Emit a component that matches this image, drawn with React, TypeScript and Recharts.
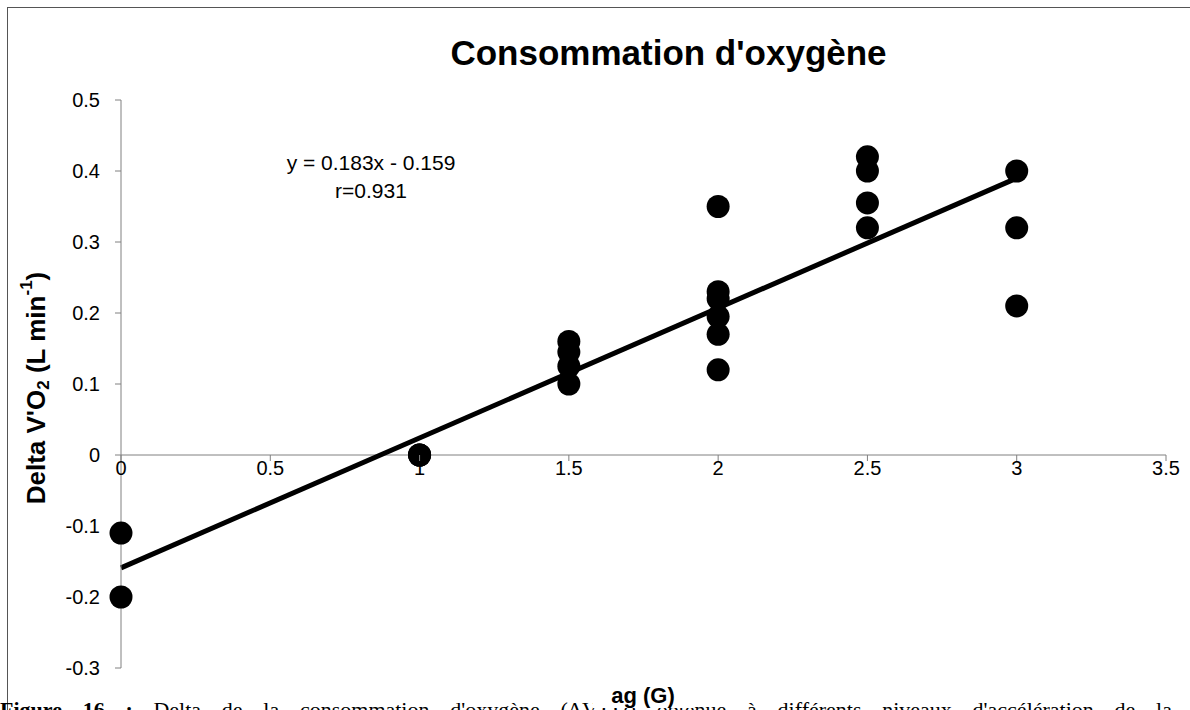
import React from "react";
import {
  ScatterChart,
  Scatter,
  XAxis,
  YAxis,
  ReferenceLine,
} from "recharts";

// measured points, one array per acceleration level
const ACCEL_LEVELS = [0, 1, 1.5, 2, 2.5, 3];
const DELTA_VO2 = [
  [-0.11, -0.2],
  [0, 0, 0],
  [0.16, 0.145, 0.125, 0.1],
  [0.35, 0.23, 0.22, 0.195, 0.17, 0.12],
  [0.42, 0.4, 0.355, 0.32],
  [0.4, 0.32, 0.21],
];

// linear fit y = 0.183x - 0.159
const SLOPE = 0.183;
const INTERCEPT = -0.159;
const FIT_X = [0, 3];

const X_TICKS = [0, 0.5, 1, 1.5, 2, 2.5, 3, 3.5];
const Y_TICKS = [-0.3, -0.2, -0.1, 0, 0.1, 0.2, 0.3, 0.4, 0.5];

const W = 1190;
const H = 710;
const PLOT_LEFT = 121;
const PLOT_TOP = 100;
const PLOT_BOTTOM = 668;
const Y_MIN = -0.3;
const Y_MAX = 0.5;
const ZERO_SHIFT = ((PLOT_BOTTOM - PLOT_TOP) * (0 - Y_MIN)) / (Y_MAX - Y_MIN);

const FONT = "'Liberation Sans', Arial, sans-serif";
const AXIS_GRAY = "#808080";

const points = ACCEL_LEVELS.flatMap((x, i) =>
  DELTA_VO2[i].map((y) => ({ x, y }))
);

function XTick(props: any) {
  const { x, y, payload } = props;
  const zy = y - ZERO_SHIFT;
  return (
    <g>
      <line x1={x} x2={x} y1={zy} y2={zy + 6} stroke={AXIS_GRAY} />
      <text
        x={x}
        y={zy + 20}
        textAnchor="middle"
        fontFamily={FONT}
        fontSize={20}
        fill="#000"
      >
        {payload.value}
      </text>
    </g>
  );
}

function Dot(props: any) {
  return <circle cx={props.cx} cy={props.cy} r={11.5} fill="#000" />;
}

function YLabel() {
  const cx = 38;
  const cy = 388;
  return (
    <text
      x={cx}
      y={cy}
      transform={`rotate(-90, ${cx}, ${cy})`}
      textAnchor="middle"
      dominantBaseline="middle"
      fontFamily={FONT}
      fontSize={26}
      fontWeight="bold"
      fill="#000"
    >
      Delta V'O
      <tspan dy={7} fontSize={17}>2</tspan>
      <tspan dy={-7}> (L min</tspan>
      <tspan dy={-10} fontSize={17}>-1</tspan>
      <tspan dy={10}>)</tspan>
    </text>
  );
}

export default function App() {
  return (
    <div
      style={{
        position: "absolute",
        left: 0,
        top: 0,
        width: W,
        height: H,
        overflow: "hidden",
        background: "#fff",
      }}
    >
      <div
        style={{
          position: "absolute",
          left: 7,
          top: 7,
          width: W + 20,
          height: H + 20,
          border: "1px solid #555",
        }}
      />
      <ScatterChart
        width={W}
        height={H}
        margin={{ top: PLOT_TOP, right: 24, bottom: 0, left: 0 }}
        style={{ position: "absolute", left: 0, top: 0 }}
      >
        <XAxis
          type="number"
          dataKey="x"
          domain={[0, 3.5]}
          ticks={X_TICKS}
          height={H - PLOT_BOTTOM}
          axisLine={false}
          tickLine={false}
          tickSize={0}
          tickMargin={0}
          tick={<XTick />}
          interval={0}
        />
        <YAxis
          type="number"
          dataKey="y"
          domain={[Y_MIN, Y_MAX]}
          ticks={Y_TICKS}
          width={PLOT_LEFT}
          axisLine={{ stroke: AXIS_GRAY }}
          tickLine={{ stroke: AXIS_GRAY }}
          tickSize={6}
          tickMargin={15}
          interval={0}
          tick={{ fontFamily: FONT, fontSize: 20, fill: "#000" }}
          label={<YLabel />}
        />
        <ReferenceLine y={0} stroke={AXIS_GRAY} />
        <Scatter data={points} shape={<Dot />} isAnimationActive={false} />
        <ReferenceLine
          segment={FIT_X.map((x) => ({ x, y: SLOPE * x + INTERCEPT }))}
          stroke="#000"
          strokeWidth={5}
        />
      </ScatterChart>
      <div
        style={{
          position: "absolute",
          left: 121,
          right: 24,
          top: 33,
          textAlign: "center",
          fontFamily: FONT,
          fontSize: 35,
          fontWeight: "bold",
          paddingLeft: 50,
        }}
      >
        Consommation d'oxygène
      </div>
      <div
        style={{
          position: "absolute",
          left: 221,
          width: 300,
          top: 149,
          textAlign: "center",
          fontFamily: FONT,
          fontSize: 21,
          lineHeight: "28px",
        }}
      >
        y = 0.183x - 0.159
        <br />
        r=0.931
      </div>
      <div
        style={{
          position: "absolute",
          left: 0,
          top: 697,
          width: 1200,
          whiteSpace: "nowrap",
          textAlignLast: "justify",
          fontFamily: "'Liberation Serif', 'Times New Roman', serif",
          fontSize: 22,
        }}
      >
        <b>Figure 16 :</b> Delta de la consommation d'oxygène (ΔV'O2) obtenue à
        différents niveaux d'accélération de la (
      </div>
      <div
        style={{
          position: "absolute",
          left: 593,
          width: 100,
          top: 684,
          textAlign: "center",
          fontFamily: FONT,
          fontSize: 22,
          fontWeight: "bold",
          lineHeight: "24px",
          background: "#fff",
        }}
      >
        ag (G)
      </div>
    </div>
  );
}
